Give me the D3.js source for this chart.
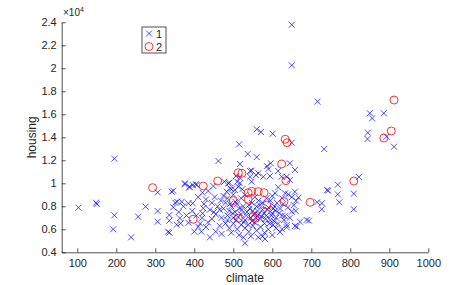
<!DOCTYPE html>
<html>
<head>
<meta charset="utf-8">
<script src="https://cdn.jsdelivr.net/npm/d3@7"></script>
<style>
  body { margin: 0; background: #fff; }
  text { font-family: "Liberation Sans", Arial, sans-serif; }
</style>
</head>
<body>
<svg id="chart"></svg>
<script>
// group 1 (blue x)
const climate1 = [650, 650, 716, 560, 571, 601, 650, 515, 537, 560, 733, 850, 886, 856, 845, 844, 893, 912,
  822, 768, 809, 768, 772, 809, 743, 715, 727, 727, 694, 671, 741,
  103, 148, 150, 195, 195, 192, 238, 256, 275, 306, 306, 306, 342, 376, 387, 396, 404,
  336, 336, 346, 351, 356, 368, 363, 365, 336, 385, 396, 385, 410, 423, 421, 333,
  462, 517, 586, 596, 645, 547, 564, 590, 615, 658, 543, 507, 517, 543, 558, 577, 594, 624, 637, 645,
  490, 487, 477, 510, 517, 547, 449, 376, 389, 406, 346, 436, 421, 492, 504, 513, 483, 495, 523,
  607, 633, 641, 658, 615, 667, 661, 637, 663, 688, 658, 637, 650, 632, 607, 602, 620,
  440, 581, 526, 530, 564,
  430, 445, 452, 460, 468, 475, 480, 485, 490, 495, 500, 505, 510, 515, 520, 525, 530, 535, 540, 545,
  550, 555, 560, 565, 570, 575, 580, 585, 590, 595, 600, 605, 610, 615, 620, 625, 630, 640, 645, 655,
  420, 435, 445, 455, 465, 470, 480, 490, 500, 510, 520, 530, 540, 550, 560, 570, 580, 590, 600, 610,
  455, 470, 495, 515, 545, 575, 625,
  410, 425, 440, 450, 465, 475, 485, 500, 520, 530, 555, 565, 575, 585, 595, 600, 612, 625, 650, 660,
  395, 405, 415, 430, 380, 372, 360, 355, 400, 418,
  505, 512, 522, 533, 542, 548, 553, 562, 568, 578, 588, 598, 603, 618, 628, 548, 558, 572, 583, 593,
  605, 485, 498, 508, 527, 538, 492];
const housing1 = [23790, 20260, 17100, 14700, 14460, 14310, 13530, 13390, 12550, 12280, 12980, 16090, 16090, 15650, 14400, 13850, 14050, 13180,
  10550, 9880, 9100, 9040, 8350, 7740, 9360, 8350, 8260, 7740, 6750, 6660, 9420,
  7880, 8310, 8200, 12140, 7220, 6000, 5300, 7100, 7970, 9220, 7590, 6660, 9270, 9910, 9700, 9850, 9910,
  7240, 6750, 7910, 8310, 8400, 8400, 6960, 6520, 5700, 8260, 8260, 6570, 6230, 7830, 7390, 5790,
  11940, 11680, 11500, 11740, 11740, 11100, 10870, 11240, 11070, 11160, 11070, 10630, 10490, 10570, 10720, 10570, 10630, 10570, 10570, 10290,
  10050, 10000, 10140, 10140, 10000, 10140, 9760, 10000, 9650, 9850, 9360, 9330, 9180, 9570, 9420, 9700, 9270, 9480, 9480,
  9130, 9130, 9040, 9270, 9650, 8750, 8490, 6370, 6230, 6810, 6290, 6170, 7530, 7160, 7620, 6370, 5760,
  5300, 5160, 5300, 4780, 5300,
  8600, 8300, 8800, 8000, 8500, 7800, 8300, 7200, 7600, 8000, 7000, 7500, 8200, 7800, 7300, 8000, 6800, 7500, 8100, 7000,
  7600, 6600, 8000, 7300, 6900, 7700, 6500, 7200, 7900, 6800, 7400, 8000, 7000, 6500, 7800, 7200, 6800, 7900, 7000, 8100,
  7000, 6600, 6900, 7300, 6300, 7000, 6500, 6100, 6500, 6000, 6400, 6100, 5800, 6300, 5900, 6200, 5700, 6000, 5500, 6100,
  5800, 5600, 5700, 5500, 5400, 5400, 6000,
  8800, 8200, 7700, 7500, 7700, 8900, 8700, 9000, 8700, 9000, 8800, 8500, 8300, 8700, 8500, 8900, 8300, 8700, 8800, 7600,
  7600, 7200, 6500, 6200, 7200, 8000, 7500, 6400, 5800, 5800,
  8400, 7100, 7700, 7200, 7800, 8300, 7300, 7600, 8100, 7400, 7700, 7200, 7800, 7400, 8200, 6700, 7000, 7100, 6900, 6500,
  6700, 6800, 7400, 6800, 6600, 6400, 8200];

// group 2 (red o)
const climate2 = [293, 423, 397, 460, 513, 522, 500, 538, 538, 547, 564, 579, 513, 551, 556,
  624, 633, 638, 635, 630, 697, 809, 886, 905, 912, 586];
const housing2 = [9620, 9760, 6870, 10200, 10920, 10870, 8490, 8610, 9180, 9300, 9270, 9180, 6960, 7100, 6950,
  11680, 13830, 13530, 10230, 8400, 8350, 10200, 13940, 14550, 17240, 8110];

const groups = ["1", "2"];
const xTicks = [100, 200, 300, 400, 500, 600, 700, 800, 900, 1000];
const yTicks = [4000, 6000, 8000, 10000, 12000, 14000, 16000, 18000, 20000, 22000, 24000];

const width = 474;
const height = 285;
const axisColor = "#262626";

const svg = d3.select("#chart")
    .attr("width", width)
    .attr("height", height);

const x = d3.scaleLinear().domain([60, 1000]).range([61.7, 428.3]);
const y = d3.scaleLinear().domain([4000, 24000]).range([252.3, 22.3]);

// axes (ticks pointing inward, no box)
const xAxis = svg.append("g")
    .attr("transform", `translate(0,${y(4000)})`)
    .call(d3.axisBottom(x).tickValues(xTicks).tickSizeInner(-4).tickSizeOuter(0).tickPadding(7)
        .tickFormat(d3.format("d")));

const yAxis = svg.append("g")
    .attr("transform", `translate(${x(60)},0)`)
    .call(d3.axisLeft(y).tickValues(yTicks).tickSizeInner(-4).tickSizeOuter(0).tickPadding(5)
        .tickFormat(d => d3.format("~g")(+(d / 1e4).toFixed(1))));

[xAxis, yAxis].forEach(g => {
    g.select(".domain").attr("stroke", axisColor).attr("stroke-width", 0.8);
    g.selectAll(".tick line").attr("stroke", axisColor).attr("stroke-width", 0.8);
    g.selectAll(".tick text").attr("fill", axisColor).style("font-size", "11px")
        .style("font-family", "'Liberation Sans', Arial, sans-serif");
});

// exponent label
const expo = svg.append("text")
    .attr("x", 63)
    .attr("y", 16)
    .attr("fill", axisColor)
    .style("font-size", "10px");
expo.append("tspan").text("\u00d710");
expo.append("tspan").attr("dy", -4).style("font-size", "7px").text("4");

// axis labels
svg.append("text")
    .attr("x", (x(60) + x(1000)) / 2)
    .attr("y", 282)
    .attr("text-anchor", "middle")
    .attr("fill", axisColor)
    .style("font-size", "12px")
    .text("climate");

svg.append("text")
    .attr("transform", `translate(36,${(y(4000) + y(24000)) / 2}) rotate(-90)`)
    .attr("text-anchor", "middle")
    .attr("fill", axisColor)
    .style("font-size", "12px")
    .text("housing");

// markers
const crossPath = "M-3,-3L3,3M-3,3L3,-3";
const pts1 = climate1.map((c, i) => [c, housing1[i]]);
const pts2 = climate2.map((c, i) => [c, housing2[i]]);

svg.append("g").selectAll("path")
    .data(pts1)
    .enter()
    .append("path")
    .attr("transform", d => `translate(${x(d[0])},${y(d[1])})`)
    .attr("d", crossPath)
    .attr("fill", "none")
    .attr("stroke", "#0000ff")
    .attr("stroke-width", 0.7);

svg.append("g").selectAll("circle")
    .data(pts2)
    .enter()
    .append("circle")
    .attr("cx", d => x(d[0]))
    .attr("cy", d => y(d[1]))
    .attr("r", 4)
    .attr("fill", "none")
    .attr("stroke", "#ff0000")
    .attr("stroke-width", 0.8);

// legend
const legend = svg.append("g").attr("transform", "translate(142,27)");
legend.append("rect")
    .attr("width", 24)
    .attr("height", 26)
    .attr("fill", "#fff")
    .attr("stroke", axisColor)
    .attr("stroke-width", 0.8);
legend.append("path")
    .attr("transform", "translate(7,6.5)")
    .attr("d", crossPath)
    .attr("fill", "none")
    .attr("stroke", "#0000ff")
    .attr("stroke-width", 0.7);
legend.append("circle")
    .attr("cx", 7)
    .attr("cy", 19.5)
    .attr("r", 4)
    .attr("fill", "none")
    .attr("stroke", "#ff0000")
    .attr("stroke-width", 0.8);
legend.selectAll(".lab")
    .data(groups)
    .enter()
    .append("text")
    .attr("class", "lab")
    .attr("x", 14)
    .attr("y", (_, i) => 10.5 + i * 13)
    .attr("fill", axisColor)
    .style("font-size", "11px")
    .text(d => d);
</script>
</body>
</html>
